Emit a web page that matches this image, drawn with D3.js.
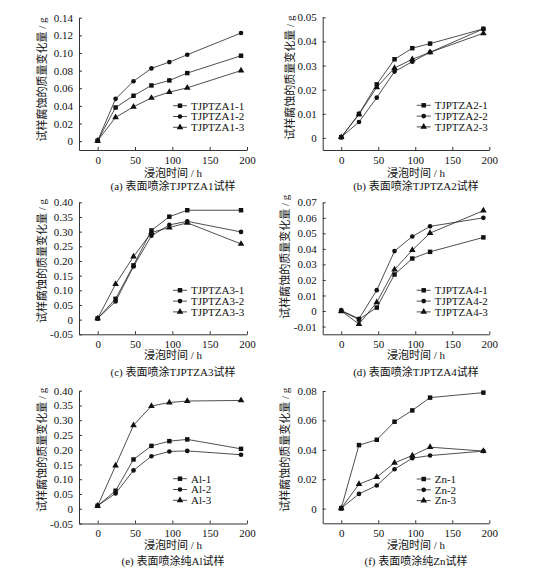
<html>

<head>
  <title>d3.js mass change</title>
  <script type="text/javascript" src="https://cdn.jsdelivr.net/npm/d3@7"></script>
  <style>
    body { margin: 0; background: #fff; }
    text { font-family: "Liberation Serif", "Noto Sans CJK SC", serif; fill: #111; }
  </style>
</head>

<body>
  <script type="text/javascript">
    // Width og height
    const w = 545;
    const h = 572;

    // Data
    const hours = [0, 24, 48, 72, 96, 120, 192];
    const xTicks = [0, 50, 100, 150, 200];

    const tjptza1_1 = [0.0005, 0.0382, 0.0515, 0.0632, 0.0689, 0.0772, 0.0969];
    const tjptza1_2 = [0.0005, 0.048, 0.068, 0.0825, 0.0897, 0.098, 0.1226];
    const tjptza1_3 = [0.0005, 0.027, 0.039, 0.049, 0.0556, 0.0605, 0.080];
    const yTicksA = [0, 0.02, 0.04, 0.06, 0.08, 0.10, 0.12, 0.14];

    const tjptza2_1 = [0.0003, 0.0099, 0.0222, 0.0326, 0.0372, 0.0391, 0.0452];
    const tjptza2_2 = [0.0003, 0.0066, 0.0167, 0.0275, 0.0316, 0.0355, 0.0452];
    const tjptza2_3 = [0.0003, 0.0098, 0.021, 0.029, 0.0326, 0.0355, 0.0434];
    const yTicksB = [0, 0.01, 0.02, 0.03, 0.04, 0.05];

    const tjptza3_1 = [0.004, 0.071, 0.185, 0.304, 0.351, 0.373, 0.373];
    const tjptza3_2 = [0.004, 0.062, 0.181, 0.286, 0.323, 0.335, 0.299];
    const tjptza3_3 = [0.004, 0.121, 0.215, 0.297, 0.314, 0.330, 0.258];
    const yTicksC = [-0.05, 0, 0.05, 0.10, 0.15, 0.20, 0.25, 0.30, 0.35, 0.40];

    const tjptza4_1 = [0, -0.0054, 0.0022, 0.0235, 0.0338, 0.0381, 0.0474];
    const tjptza4_2 = [0.0004, -0.005, 0.0134, 0.0386, 0.048, 0.0545, 0.060];
    const tjptza4_3 = [0, -0.0084, 0.0056, 0.0267, 0.0392, 0.0502, 0.0646];
    const yTicksD = [-0.01, 0, 0.01, 0.02, 0.03, 0.04, 0.05, 0.06, 0.07];

    const al_1 = [0.010, 0.061, 0.167, 0.213, 0.229, 0.235, 0.203];
    const al_2 = [0.010, 0.052, 0.130, 0.178, 0.194, 0.196, 0.183];
    const al_3 = [0.010, 0.146, 0.283, 0.348, 0.360, 0.365, 0.367];
    const yTicksE = [-0.05, 0, 0.05, 0.10, 0.15, 0.20, 0.25, 0.30, 0.35, 0.40];

    const zn_1 = [0.0002, 0.0432, 0.0468, 0.0591, 0.0668, 0.0755, 0.0789];
    const zn_2 = [0.0002, 0.010, 0.0157, 0.0268, 0.0343, 0.0361, 0.0391];
    const zn_3 = [0.0002, 0.0166, 0.0214, 0.0311, 0.0361, 0.0418, 0.0391];
    const yTicksF = [0, 0.02, 0.04, 0.06, 0.08];

    const yTitle = "试样腐蚀的质量变化量 / g";
    const xTitle = "浸泡时间 / h";

    // Panel setup (position + domain)
    const panels = [
      { left: 79, right: 247, top: 17.7, bottom: 150, y0: -0.01, y1: 0.14, ticks: yTicksA,
        series: [tjptza1_1, tjptza1_2, tjptza1_3], names: ["TJPTZA1-1", "TJPTZA1-2", "TJPTZA1-3"],
        caption: "(a) 表面喷涂TJPTZA1试样", ytx: 37, tOff: 27, cOff: 40 },
      { left: 322.7, right: 489.3, top: 17.3, bottom: 150, y0: -0.005, y1: 0.05, ticks: yTicksB,
        series: [tjptza2_1, tjptza2_2, tjptza2_3], names: ["TJPTZA2-1", "TJPTZA2-2", "TJPTZA2-3"],
        caption: "(b) 表面喷涂TJPTZA2试样", ytx: 32.5, tOff: 27, cOff: 40 },
      { left: 79, right: 247, top: 202.3, bottom: 334.3, y0: -0.05, y1: 0.40, ticks: yTicksC,
        series: [tjptza3_1, tjptza3_2, tjptza3_3], names: ["TJPTZA3-1", "TJPTZA3-2", "TJPTZA3-3"],
        caption: "(c) 表面喷涂TJPTZA3试样", ytx: 37, tOff: 25, cOff: 41.5 },
      { left: 322.7, right: 489.3, top: 202.3, bottom: 334.3, y0: -0.015, y1: 0.07, ticks: yTicksD,
        series: [tjptza4_1, tjptza4_2, tjptza4_3], names: ["TJPTZA4-1", "TJPTZA4-2", "TJPTZA4-3"],
        caption: "(d) 表面喷涂TJPTZA4试样", ytx: 37.4, tOff: 25, cOff: 41.5 },
      { left: 79, right: 247, top: 390.7, bottom: 523.5, y0: -0.05, y1: 0.40, ticks: yTicksE,
        series: [al_1, al_2, al_3], names: ["Al-1", "Al-2", "Al-3"],
        caption: "(e) 表面喷涂纯Al试样", ytx: 37, tOff: 25.5, cOff: 41.5 },
      { left: 322.7, right: 489.3, top: 391, bottom: 523.3, y0: -0.01, y1: 0.08, ticks: yTicksF,
        series: [zn_1, zn_2, zn_3], names: ["Zn-1", "Zn-2", "Zn-3"],
        caption: "(f) 表面喷涂纯Zn试样", ytx: 37.4, tOff: 25.5, cOff: 41.5 }
    ];

    const symbols = [d3.symbolSquare, d3.symbolCircle, d3.symbolTriangle];
    const symSize = [20, 17, 19];

    // Lav SVG element
    const svg = d3.select("body")
      .append("svg")
      .attr("width", w)
      .attr("height", h);

    const fmt = function (d) {
      return d === 0 ? "0" : d3.format(".2f")(d).replace("−", "-");
    };

    panels.forEach(function (p) {
      const xScale = d3.scaleLinear().domain([-25, 200]).range([p.left, p.right]);
      const yScale = d3.scaleLinear().domain([p.y0, p.y1]).range([p.bottom, p.top]);
      const g = svg.append("g");

      // x-akse
      const xAxis = g.append("g")
        .attr("transform", "translate(0," + p.bottom + ")")
        .call(d3.axisBottom(xScale).tickValues(xTicks).tickSizeInner(-3).tickSizeOuter(0).tickPadding(6));
      xAxis.selectAll("text").attr("font-size", 11);

      // y-akse
      const yAxis = g.append("g")
        .attr("transform", "translate(" + p.left + ",0)")
        .call(d3.axisLeft(yScale).tickValues(p.ticks).tickFormat(fmt).tickSizeInner(-3).tickSizeOuter(0).tickPadding(6));
      yAxis.selectAll("text").attr("font-size", 11);
      g.selectAll(".domain").attr("stroke", "#333").attr("stroke-width", 1);
      g.selectAll(".tick line").attr("stroke", "#333");
      g.selectAll(".tick text").attr("font-family", "Liberation Serif, serif").attr("fill", "#111");

      // titler
      const cx = (p.left + p.right) / 2 + 10;
      g.append("text")
        .attr("x", cx).attr("y", p.bottom + p.tOff)
        .attr("text-anchor", "middle").attr("font-size", 11)
        .text(xTitle);
      g.append("text")
        .attr("x", cx).attr("y", p.bottom + p.cOff)
        .attr("text-anchor", "middle").attr("font-size", 11)
        .text(p.caption);
      const ty = (p.top + yScale(0)) / 2;
      g.append("text")
        .attr("transform", "translate(" + (p.left - p.ytx + 4) + "," + ty + ") rotate(-90)")
        .attr("text-anchor", "middle").attr("font-size", 11)
        .text(yTitle);

      // linjer og markører
      const line = d3.line()
        .x(function (d, i) { return xScale(hours[i]); })
        .y(function (d) { return yScale(d); });

      p.series.forEach(function (s, k) {
        g.append("path")
          .datum(s)
          .attr("d", line)
          .attr("fill", "none")
          .attr("stroke", "#222")
          .attr("stroke-width", 0.8);
        g.selectAll(".m" + k)
          .data(s)
          .enter()
          .append("path")
          .attr("transform", function (d, i) {
            return "translate(" + xScale(hours[i]) + "," + yScale(d) + ")";
          })
          .attr("d", d3.symbol().type(symbols[k]).size(symSize[k]))
          .attr("fill", "#111");
      });

      // legende
      const lx = p.left + 94;
      const ly = p.top + 88;
      p.names.forEach(function (n, k) {
        const yy = ly + k * 10.8;
        g.append("line")
          .attr("x1", lx).attr("x2", lx + 14)
          .attr("y1", yy).attr("y2", yy)
          .attr("stroke", "#222").attr("stroke-width", 0.8);
        g.append("path")
          .attr("transform", "translate(" + (lx + 7) + "," + yy + ")")
          .attr("d", d3.symbol().type(symbols[k]).size(symSize[k]))
          .attr("fill", "#111");
        g.append("text")
          .attr("x", lx + 18).attr("y", yy)
          .attr("dy", "0.35em").attr("font-size", 11)
          .text(n);
      });
    });
  </script>
</body>

</html>
